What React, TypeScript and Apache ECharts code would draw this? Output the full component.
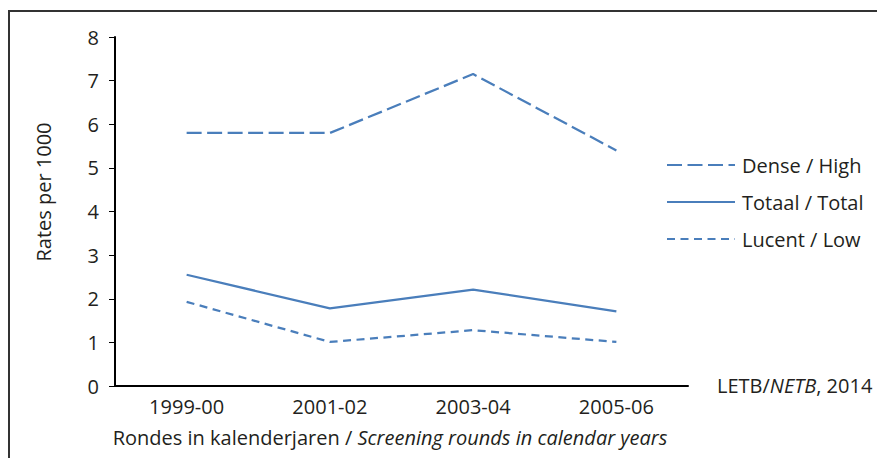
import React, { useEffect, useRef } from "react";
import * as echarts from "echarts";

const categories = ["1999-00", "2001-02", "2003-04", "2005-06"];
const denseHigh = [5.8, 5.8, 7.15, 5.4];
const totaal = [2.55, 1.78, 2.21, 1.71];
const lucentLow = [1.93, 1.01, 1.28, 1.01];
const seriesNames = ["Dense / High", "Totaal / Total", "Lucent / Low"];
const yTicks = [0, 8, 1];

const FONT = "Open Sans";
const FS = 20;
const BLUE = "#4a7ebb";
const TEXT = "#231f20";

export default function App() {
  const ref = useRef<HTMLDivElement>(null);
  useEffect(() => {
    if (!ref.current) return;
    const chart = echarts.init(ref.current, null, { renderer: "svg" });
    chart.setOption({
      animation: false,
      textStyle: { fontFamily: FONT, color: TEXT },
      grid: { left: 115, top: 37, width: 573, height: 349, containLabel: false },
      legend: {
        orient: "vertical",
        left: 661,
        top: 150,
        itemWidth: 68,
        itemHeight: 14,
        itemGap: 17,
        data: seriesNames,
        itemStyle: { color: "rgba(0,0,0,0)", borderWidth: 0, opacity: 0 },
        textStyle: { fontFamily: FONT, fontSize: FS, color: TEXT, padding: [0, 0, 0, 2] },
      },
      xAxis: {
        type: "category",
        data: categories,
        boundaryGap: true,
        axisLine: { lineStyle: { color: "#000", width: 2 } },
        axisTick: { show: false },
        axisLabel: { fontFamily: FONT, fontSize: FS, color: TEXT, margin: 10 },
        splitLine: { show: false },
      },
      yAxis: {
        type: "value",
        min: yTicks[0],
        max: yTicks[1],
        interval: yTicks[2],
        axisLine: { show: true, lineStyle: { color: "#000", width: 2 } },
        axisTick: { show: true, length: 6, lineStyle: { color: "#000", width: 1 } },
        axisLabel: { fontFamily: FONT, fontSize: FS, color: TEXT, margin: 16 },
        splitLine: { show: false },
      },
      series: [
        {
          name: seriesNames[0],
          type: "line",
          data: denseHigh,
          symbol: "none",
          lineStyle: { color: BLUE, width: 2.25, type: [15, 5.5] },
          itemStyle: { color: BLUE },
        },
        {
          name: seriesNames[1],
          type: "line",
          data: totaal,
          symbol: "none",
          lineStyle: { color: BLUE, width: 2.25, type: "solid" },
          itemStyle: { color: BLUE },
        },
        {
          name: seriesNames[2],
          type: "line",
          data: lucentLow,
          symbol: "none",
          lineStyle: { color: BLUE, width: 2.25, type: [8, 5.5] },
          itemStyle: { color: BLUE },
        },
      ],
      graphic: [
        {
          type: "rect",
          shape: { x: 9, y: 11, width: 1000, height: 600 },
          style: { fill: "none", stroke: "#333", lineWidth: 2 },
          silent: true,
        },
        {
          type: "text",
          x: 43,
          y: 192,
          rotation: Math.PI / 2,
          style: {
            text: "Rates per 1000",
            fontFamily: FONT,
            fontSize: FS,
            fill: TEXT,
            align: "center",
            verticalAlign: "middle",
          },
        },
        {
          type: "text",
          x: 390,
          y: 437,
          style: {
            text: "{n|Rondes in kalenderjaren / }{i|Screening rounds in calendar years}",
            align: "center",
            verticalAlign: "middle",
            rich: {
              n: { fontFamily: FONT, fontSize: FS, fill: TEXT },
              i: { fontFamily: FONT, fontSize: FS, fontStyle: "italic", fill: TEXT },
            },
          },
        },
        {
          type: "text",
          x: 717,
          y: 385,
          style: {
            text: "{n|LETB/}{i|NETB}{n|, 2014}",
            align: "left",
            verticalAlign: "middle",
            rich: {
              n: { fontFamily: FONT, fontSize: FS, fill: TEXT },
              i: { fontFamily: FONT, fontSize: FS, fontStyle: "italic", fill: TEXT },
            },
          },
        },
      ],
    });
    return () => chart.dispose();
  }, []);
  return (
    <div
      ref={ref}
      style={{ position: "absolute", left: 0, top: 0, width: 877, height: 458, overflow: "hidden" }}
    />
  );
}
